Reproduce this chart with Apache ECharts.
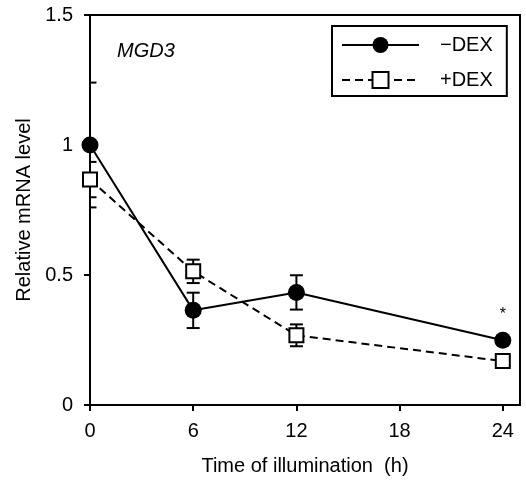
<!DOCTYPE html>
<html>
<head>
<meta charset="utf-8">
<script src="https://cdn.jsdelivr.net/npm/echarts@6/dist/echarts.min.js"></script>
<style>html,body{margin:0;padding:0;background:#fff}#c{width:526px;height:481px}</style>
</head>
<body>
<div id="c"></div>
<script>
var hours = [0, 6, 12, 24];
var minusDex = [1.0, 0.364, 0.433, 0.249];
var minusDexErr = [0.24, 0.068, 0.066, 0.0];
var plusDex = [0.867, 0.514, 0.268, 0.169];
var plusDexErr = [0.068, 0.045, 0.042, 0.0];
var xTicks = [0, 6, 12, 18, 24];
var yTicks = [0, 0.5, 1, 1.5];

var FONT = 'Liberation Sans, Arial, sans-serif';
var chart = echarts.init(document.getElementById('c'), null, {renderer: 'canvas'});

function pairs(xs, ys) { return xs.map(function (x, i) { return [x, ys[i]]; }); }
function errData(xs, ys, es) { return xs.map(function (x, i) { return [x, ys[i] - es[i], ys[i] + es[i]]; }); }

function renderErr(params, api) {
  var x = api.value(0), lo = api.value(1), hi = api.value(2);
  if (hi - lo <= 0) return null;
  var p1 = api.coord([x, lo]), p2 = api.coord([x, hi]);
  var hw = 6.5;
  var st = {stroke: '#000', lineWidth: 2};
  return {type: 'group', children: [
    {type: 'line', shape: {x1: p1[0], y1: p1[1], x2: p2[0], y2: p2[1]}, style: st},
    {type: 'line', shape: {x1: p1[0] - hw, y1: p1[1], x2: p1[0] + hw, y2: p1[1]}, style: st},
    {type: 'line', shape: {x1: p2[0] - hw, y1: p2[1], x2: p2[0] + hw, y2: p2[1]}, style: st}
  ]};
}

var minusData = pairs(hours, minusDex).map(function (d, i) {
  if (hours[i] === 24) {
    return {value: d, label: {show: true, formatter: '*', position: 'top', distance: 9, fontSize: 16, color: '#000', fontFamily: FONT}};
  }
  return d;
});

chart.setOption({
  animation: false,
  textStyle: {fontFamily: FONT, color: '#000'},
  grid: {left: 90, right: 6, top: 15, bottom: 75, show: true, borderColor: '#000', borderWidth: 2, backgroundColor: 'transparent'},
  legend: {
    orient: 'vertical', left: 332, top: 26,
    padding: [9, 14, 6, 9],
    itemWidth: 77, itemHeight: 20, itemGap: 15,
    borderColor: '#000', borderWidth: 2,
    textStyle: {fontSize: 20, color: '#000', fontFamily: FONT, padding: [0, 0, 0, 16]},
    data: ['\u2212DEX', '+DEX']
  },
  xAxis: {
    type: 'value', min: 0, max: 25, interval: 6,
    name: 'Time of illumination  (h)', nameLocation: 'middle', nameGap: 51,
    nameTextStyle: {fontSize: 20, color: '#000', fontFamily: FONT},
    axisLine: {show: true, lineStyle: {color: '#000', width: 2}},
    axisTick: {show: true, length: 6, lineStyle: {color: '#000', width: 2}},
    axisLabel: {fontSize: 20, color: '#000', margin: 16, showMaxLabel: false,
      formatter: function (v) { return xTicks.indexOf(v) >= 0 ? String(v) : ''; }},
    splitLine: {show: false}
  },
  yAxis: {
    type: 'value', min: 0, max: 1.5, interval: 0.5,
    name: 'Relative mRNA level', nameLocation: 'middle', nameGap: 56,
    nameTextStyle: {fontSize: 20, color: '#000', fontFamily: FONT},
    axisLine: {show: true, lineStyle: {color: '#000', width: 2}},
    axisTick: {show: true, length: 6, lineStyle: {color: '#000', width: 2}},
    axisLabel: {fontSize: 20, color: '#000', margin: 17,
      formatter: function (v) { return yTicks.indexOf(v) >= 0 ? String(v) : ''; }},
    splitLine: {show: false}
  },
  graphic: [{
    type: 'text', left: 117, top: 41,
    style: {text: 'MGD3', fontSize: 20, fontStyle: 'italic', fontFamily: FONT, fill: '#000'}
  }],
  series: [
    {type: 'custom', name: 'errMinus', renderItem: renderErr, data: errData(hours, minusDex, minusDexErr), clip: true, z: 1, silent: true},
    {type: 'custom', name: 'errPlus', renderItem: renderErr, data: errData(hours, plusDex, plusDexErr), clip: true, z: 1, silent: true},
    {
      type: 'line', name: '+DEX', data: pairs(hours, plusDex), z: 3,
      symbol: 'rect', symbolSize: 14, clip: false,
      lineStyle: {color: '#000', width: 2, type: [8, 5]},
      itemStyle: {color: '#fff', borderColor: '#000', borderWidth: 2}
    },
    {
      type: 'line', name: '\u2212DEX', data: minusData, z: 4,
      symbol: 'circle', symbolSize: 17, clip: false,
      lineStyle: {color: '#000', width: 2},
      itemStyle: {color: '#000', borderColor: '#000', borderWidth: 0}
    }
  ]
});
</script>
</body>
</html>
